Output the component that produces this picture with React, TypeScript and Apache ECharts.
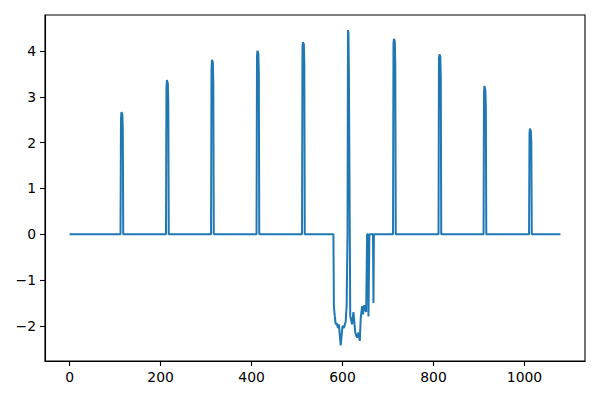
import React, { useEffect, useRef } from "react";
import * as echarts from "echarts";

// Signal samples as [x, y] pairs (flat zero stretches given by their endpoints)
const signal: [number, number][] = [
  [0, 0],
  [112, 0], [113, 2.5], [114, 2.67], [116, 2.62], [117, 2.3], [118, 0],
  [212, 0], [213, 3.2], [214, 3.37], [216, 3.3], [217, 2.9], [218, 0],
  [311, 0], [312, 3.6], [313, 3.81], [315, 3.75], [316, 3.3], [317, 0],
  [411, 0], [412, 3.9], [413, 4.01], [415, 3.95], [416, 3.5], [417, 0],
  [511, 0], [512, 4.1], [513, 4.2], [515, 4.15], [516, 3.7], [517, 0],
  [580, 0], [581, -1.57], [583, -1.79], [585, -1.97], [587, -1.94], [590, -2.05],
  [592, -1.97], [596, -2.43], [600, -2.0], [603, -2.05], [607, -1.9], [609, -1.57],
  [611, 0], [612, 4.46], [613, 4.4], [614, 3.5], [617, -1.79], [621, -1.97],
  [624, -1.7], [628, -2.15], [632, -2.26], [635, -2.15], [638, -2.33], [640, -1.84],
  [643, -1.57], [645, -1.75], [648, -1.55], [652, -1.7], [654, 0], [656, 0],
  [657, -1.8], [659, 0], [667, 0], [668, -1.5], [669, 0],
  [711, 0], [712, 4.15], [713, 4.27], [715, 4.2], [716, 3.7], [717, 0],
  [811, 0], [812, 3.85], [813, 3.93], [815, 3.88], [816, 3.4], [817, 0],
  [910, 0], [911, 3.1], [912, 3.24], [914, 3.15], [915, 2.8], [916, 0],
  [1010, 0], [1011, 2.2], [1012, 2.31], [1014, 2.25], [1015, 2.0], [1016, 0],
  [1079, 0],
];

const xTicks = [0, 200, 400, 600, 800, 1000];
const yTicks = [-2, -1, 0, 1, 2, 3, 4];

const fmt = (v: number) => String(v).replace("-", "\u2212");

export default function App() {
  const ref = useRef<HTMLDivElement>(null);
  useEffect(() => {
    if (!ref.current) return;
    const chart = echarts.init(ref.current, undefined, { renderer: "svg" });
    const font = { fontFamily: "DejaVu Sans", fontSize: 13.9, color: "#000" };
    chart.setOption({
      animation: false,
      backgroundColor: "#fff",
      grid: {
        left: 45,
        top: 15,
        right: 15,
        bottom: 39,
        show: true,
        borderColor: "#000",
        borderWidth: 1.1,
      },
      xAxis: {
        type: "value",
        min: -54,
        max: 1133,
        axisLine: { show: true, onZero: false, lineStyle: { color: "#000", width: 1.1 } },
        axisTick: { show: true, length: 5, customValues: xTicks, lineStyle: { color: "#000", width: 1.1 } },
        axisLabel: { ...font, margin: 9, customValues: xTicks, formatter: fmt },
        splitLine: { show: false },
      },
      yAxis: {
        type: "value",
        min: -2.77,
        max: 4.79,
        axisLine: { show: true, onZero: false, lineStyle: { color: "#000", width: 1.1 } },
        axisTick: { show: true, length: 5, customValues: yTicks, lineStyle: { color: "#000", width: 1.1 } },
        axisLabel: { ...font, margin: 9, customValues: yTicks, formatter: fmt },
        splitLine: { show: false },
      },
      series: [
        {
          type: "line",
          data: signal,
          showSymbol: false,
          symbol: "none",
          lineStyle: { color: "#1f77b4", width: 2 },
          itemStyle: { color: "#1f77b4" },
        },
      ],
    });
    return () => chart.dispose();
  }, []);
  return (
    <div
      ref={ref}
      style={{ position: "fixed", left: 0, top: 0, width: 600, height: 400 }}
    />
  );
}
